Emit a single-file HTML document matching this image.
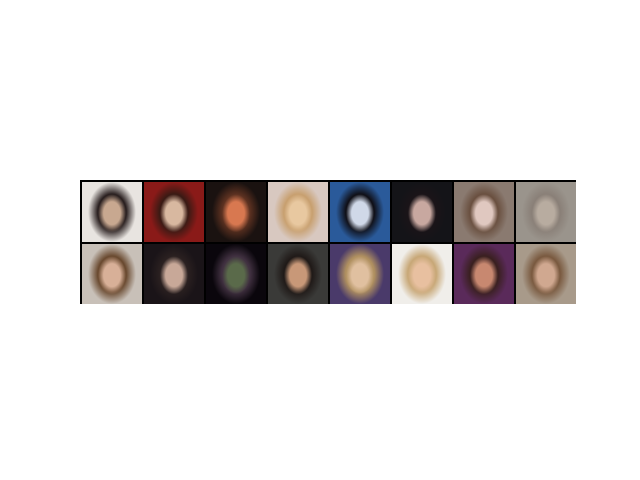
<!DOCTYPE html>
<html><head><meta charset="utf-8"><style>
body{margin:0;background:#fff;width:640px;height:480px;position:relative;overflow:hidden;font-family:"Liberation Sans",sans-serif}
#grid{position:absolute;left:80px;top:180px;width:496px;height:124px;background:#000;box-sizing:border-box}
.cell{position:absolute;width:60px;height:60px}
</style></head><body>
<div id="grid"></div>
<script>
const bgs=["#e8e4e0","#8a1a18","#1a1210","#d8c8c0","#2a5a9a","#141418","#8a7a70","#9a948c",
"#c8c0b8","#1a1418","#0a060c","#3a3a38","#4a3a6a","#f0eeea","#5a2a5a","#a89a8a"];
const hairs=["#2a2020","#3a1a14","#5a3020","#c8a070","#101018","#1a1418","#6a5040","#8a8078",
"#6a4a30","#2a2020","#403040","#201a18","#b09060","#c8a878","#3a2020","#7a5a40"];
const faces=["#c8a890","#d8b8a0","#d87850","#e8c8a0","#d0d8e8","#c8a8a0","#e0c8c0","#b8aca0",
"#d8b098","#c8a898","#5a6a4a","#c89878","#e0c0a0","#e8c0a0","#c88870","#d0a890"];
const g=document.getElementById('grid');
for(let i=0;i<16;i++){
 const c=document.createElement('div');
 c.className='cell';
 c.style.left=(2+(i%8)*62)+'px';
 c.style.top=(2+Math.floor(i/8)*62)+'px';
 c.style.background=`radial-gradient(ellipse 14px 19px at 50% 52%, ${faces[i]} 0%, ${faces[i]} 70%, ${hairs[i]} 100%), ${bgs[i]}`;
 c.style.background=`radial-gradient(ellipse 14px 19px at 50% 52%, ${faces[i]} 60%, transparent 100%), radial-gradient(ellipse 24px 30px at 50% 50%, ${hairs[i]} 60%, transparent 100%), ${bgs[i]}`;
 
 
 g.appendChild(c);
}
</script>
</body></html>
